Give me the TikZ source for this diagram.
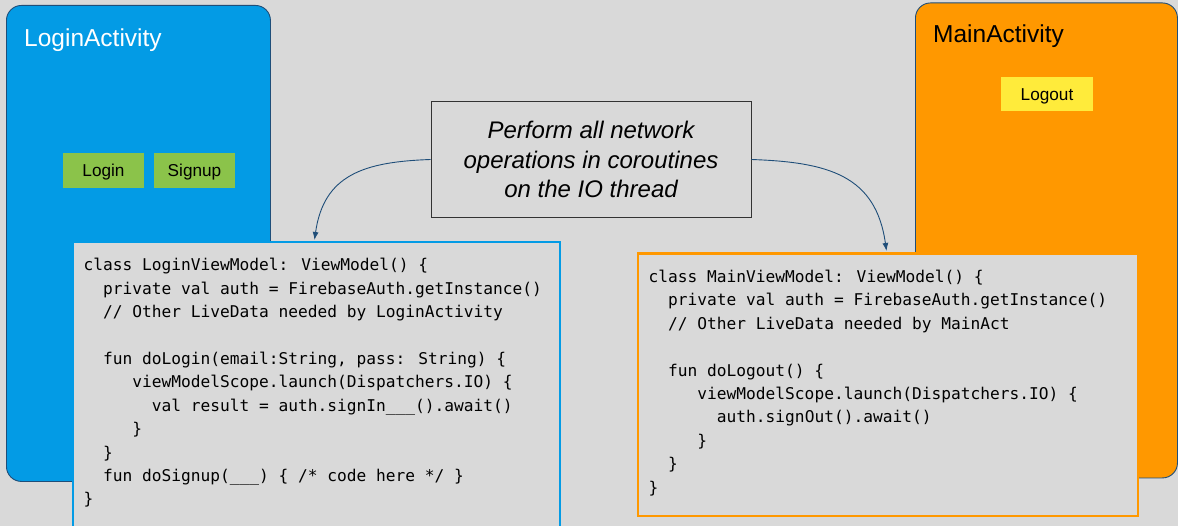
\documentclass[tikz,border=0pt]{standalone}
\usepackage{fontspec}
\setmainfont{Liberation Sans}
\newfontfamily\codefont{DejaVu Sans Mono}
\usetikzlibrary{arrows.meta}
\definecolor{bg}{HTML}{D9D9D9}
\definecolor{actblue}{HTML}{039BE5}
\definecolor{actorange}{HTML}{FF9800}
\definecolor{btngreen}{HTML}{8BC34A}
\definecolor{btnyellow}{HTML}{FFEB3B}
\definecolor{edgeblue}{HTML}{1F4E79}
\definecolor{notegray}{HTML}{333333}
\newdimen\codecharw
\codecharw=9.753pt
\newcommand{\ind}[1]{\hspace*{#1\codecharw}}
\tikzset{
  actbox/.style={draw=edgeblue, line width=0.9pt, rounded corners=15pt, inner sep=0pt, anchor=north west},
  acttitle/.style={anchor=base west, inner sep=0pt, font=\fontsize{24.5}{29}\selectfont},
  btnbox/.style={inner sep=0pt, text height=12.3pt, text depth=0pt, font=\fontsize{17.2}{20}\selectfont},
  codebox/.style={fill=bg, line width=2.2pt, inner sep=0pt, anchor=north west},
  codetext/.style={anchor=north west, inner sep=0pt, align=left, font=\codefont\fontsize{16.2}{23.4}\selectfont},
  notebox/.style={draw=notegray, line width=0.9pt, fill=bg, align=center, minimum width=320pt, minimum height=116pt, inner sep=0pt, font=\itshape\fontsize{24}{29.5}\selectfont},
  conn/.style={draw=edgeblue, line width=0.9pt, -{Latex[length=8pt,width=6pt]}}
}
\begin{document}
\begin{tikzpicture}[x=1pt,y=-1pt]
\useasboundingbox[fill=bg] (0,0) rectangle (1178,526);

% activity panels
\node[actbox, fill=actblue, minimum width=264pt, minimum height=476pt] (loginact) at (6,5) {};
\node[actbox, fill=actorange, minimum width=262pt, minimum height=475pt] (mainact) at (915,2.5) {};

\node[acttitle, text=white] (logintitle) at (24,47) {LoginActivity};
\node[acttitle, text=black] (maintitle) at (933,43) {MainActivity};

% buttons
\node[btnbox, fill=btngreen, minimum width=81pt, minimum height=35pt] (loginbtn) at (103.5,170.5) {Login};
\node[btnbox, fill=btngreen, minimum width=81pt, minimum height=35pt] (signupbtn) at (194.5,170.5) {Signup};
\node[btnbox, fill=btnyellow, minimum width=92pt, minimum height=34pt] (logoutbtn) at (1047,94) {Logout};

% code boxes
\node[codebox, draw=actblue, minimum width=487pt, minimum height=300pt] (lcode) at (71.5,241) {};
\node[codebox, draw=actorange, minimum width=500pt, minimum height=262pt] (rcode) at (636.5,252.5) {};

\node[codetext] (ltext) at (83.3,258.4) {%
class LoginViewModel: ViewModel() \{\\
\ind{2}private val auth = FirebaseAuth.getInstance()\\
\ind{2}// Other LiveData needed by LoginActivity\\
\mbox{}\\
\ind{2}fun doLogin(email:String, pass: String) \{\\
\ind{5}viewModelScope.launch(Dispatchers.IO) \{\\
\ind{7}val result = auth.signIn\_\_\_().await()\\
\ind{5}\}\\
\ind{2}\}\\
\ind{2}fun doSignup(\_\_\_) \{ /* code here */ \}\\
\}};

\node[codetext] (rtext) at (648.5,270) {%
class MainViewModel: ViewModel() \{\\
\ind{2}private val auth = FirebaseAuth.getInstance()\\
\ind{2}// Other LiveData needed by MainAct\\
\mbox{}\\
\ind{2}fun doLogout() \{\\
\ind{5}viewModelScope.launch(Dispatchers.IO) \{\\
\ind{7}auth.signOut().await()\\
\ind{5}\}\\
\ind{2}\}\\
\}};

% note
\node[notebox] (note) at (591,159.5) {Perform all network\\operations in coroutines\\on the IO thread};

\coordinate (lin) at (314.5,240);
\coordinate (rin) at (886.5,251);
\draw[conn] (note.west) to[out=182,in=82,looseness=1.2] (lin);
\draw[conn] (note.east) to[out=-2,in=98,looseness=1.2] (rin);
\end{tikzpicture}
\end{document}
